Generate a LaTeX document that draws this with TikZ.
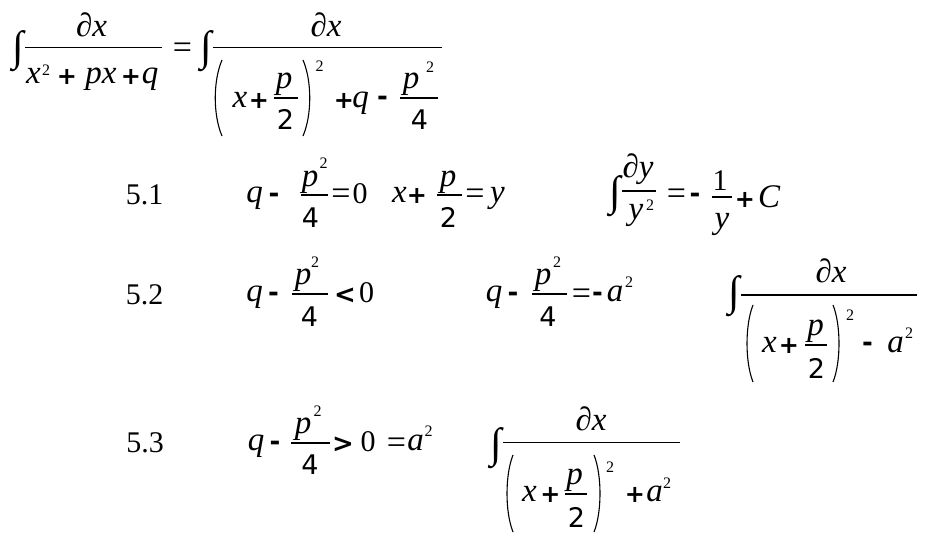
\documentclass[tikz,border=0pt]{standalone}
\usepackage{fontspec}
\setmainfont{Liberation Serif}
\newfontfamily\sansdj{DejaVu Sans}
\begin{document}
\begin{tikzpicture}[x=1pt,y=-1pt,
  every node/.style={inner sep=0pt,outer sep=0pt},
  v/.style={anchor=base,font=\fontsize{33}{38}\selectfont\itshape},
  rm/.style={anchor=base,font=\fontsize{30}{36}\selectfont},
  sup/.style={anchor=base,font=\fontsize{16}{18}\selectfont},
  dg/.style={anchor=base,font=\fontsize{27}{30}\sansdj},
  op/.style={anchor=center,font=\fontsize{24}{26}\sansdj\bfseries},
  mn/.style={anchor=center,font=\fontsize{26}{30}\sansdj\bfseries},
  eqs/.style={anchor=center,font=\fontsize{34}{36}\selectfont},
  intg/.style={anchor=center,font=\fontsize{42}{44}\selectfont},
  fbar/.style={line width=1.4pt},
  par/.style={line width=1.1pt}]
\useasboundingbox (0,0) rectangle (925,541);
\fill[white] (0,0) rectangle (925,541);
% ---------------- top formula
\node[intg] (int1) at (18.5,51) {∫};
\node[v] (dx1) at (91.5,36) {∂x};
\coordinate (b1l) at (25,47.7); \coordinate (b1r) at (162,47.7);
\draw[fbar] (b1l) -- (b1r);
\node[v] (d1x) at (33.5,83) {x};
\node[sup] (d1s) at (46,75) {2};
\node[op] (d1pa) at (67,77) {+};
\node[v] (d1px) at (101,83) {px};
\node[op] (d1pb) at (131,77) {+};
\node[v] (d1q) at (150,83) {q};
\node[eqs] (eq1) at (182.5,51) {=};
\node[intg] (int2) at (206,51) {∫};
\node[v] (dx2) at (326,36) {∂x};
\coordinate (b2l) at (213,47.7); \coordinate (b2r) at (442,47.7);
\draw[fbar] (b2l) -- (b2r);
\draw[par] (222,60) .. controls (213,81) and (213,115) .. (222,136);
\node[v] (ix1) at (240,107) {x};
\node[op] (ipa) at (259,101) {+};
\node[v] (ipn) at (284,88) {p};
\coordinate (ib1l) at (274,98); \coordinate (ib1r) at (298,98);
\draw[fbar] (ib1l) -- (ib1r);
\node[dg] (i2) at (285.5,129) {2};
\draw[par] (303,60) .. controls (312,81) and (312,115) .. (303,136);
\node[sup] (is1) at (319.5,71) {2};
\node[op] (ipb) at (344,101) {+};
\node[v] (iq) at (360.5,107) {q};
\node[mn] (im) at (382.5,101) {-};
\node[v] (ipn2) at (411,88) {p};
\node[sup] (is2) at (430,72) {2};
\coordinate (ib2l) at (400,98); \coordinate (ib2r) at (438,98);
\draw[fbar] (ib2l) -- (ib2r);
\node[dg] (i4) at (419.5,129) {4};
% ---------------- row 5.1
\node[rm] (lab1) at (144.5,204) {5.1};
\node[v] (aq) at (254.5,202) {q};
\node[mn] (am) at (274,198) {-};
\node[v] (ap) at (310,186) {p};
\node[sup] (as) at (323.5,168) {2};
\coordinate (abl) at (301,195); \coordinate (abr) at (328,195);
\draw[fbar] (abl) -- (abr);
\node[dg] (a4) at (310.5,227) {4};
\node[eqs] (aeq) at (341,197) {=};
\node[rm] (a0) at (360,203) {0};
\node[v] (ax) at (399.5,202) {x};
\node[op] (apl) at (417,196) {+};
\node[v] (ap2) at (448,186) {p};
\coordinate (ab2l) at (437,195); \coordinate (ab2r) at (462,195);
\draw[fbar] (ab2l) -- (ab2r);
\node[dg] (a2) at (448.5,227) {2};
\node[eqs] (aeq2) at (475,197) {=};
\node[v] (ay) at (497.5,202) {y};
\node[intg] (aint) at (615,196) {∫};
\node[v] (ady) at (638,177) {∂y};
\coordinate (ab3l) at (622,191); \coordinate (ab3r) at (656,191);
\draw[fbar] (ab3l) -- (ab3r);
\node[v] (ay2) at (636,219) {y};
\node[sup] (ays) at (650,210) {2};
\node[eqs] (aeq3) at (676.5,197) {=};
\node[mn] (am2) at (695,198) {-};
\node[rm] (a1) at (720,190) {1};
\coordinate (ab4l) at (712,197); \coordinate (ab4r) at (732,197);
\draw[fbar] (ab4l) -- (ab4r);
\node[v] (ay3) at (722,228) {y};
\node[op] (apl2) at (745,200) {+};
\node[v] (aC) at (769,207) {C};
% ---------------- row 5.2
\node[rm] (lab2) at (144.5,304) {5.2};
\node[v] (bq) at (254.5,301) {q};
\node[mn] (bm) at (273.5,297) {-};
\node[v] (bp) at (303,284) {p};
\node[sup] (bs) at (315,267) {2};
\coordinate (bbl) at (292,294); \coordinate (bbr) at (328,294);
\draw[fbar] (bbl) -- (bbr);
\node[dg] (b4) at (309.5,326) {4};
\node[mn] (blt) at (345,296) {<};
\node[rm] (b0) at (366.5,302) {0};
\node[v] (bq2) at (494,301) {q};
\node[mn] (bm2) at (513,297) {-};
\node[v] (bp2) at (543,284) {p};
\node[sup] (bs2) at (557,267) {2};
\coordinate (bb2l) at (532,294); \coordinate (bb2r) at (567,294);
\draw[fbar] (bb2l) -- (bb2r);
\node[dg] (b42) at (548,326) {4};
\node[eqs] (beq) at (581.5,296.5) {=};
\node[mn] (bm3) at (597.5,297) {-};
\node[v] (ba) at (615,301) {a};
\node[sup] (bas) at (629,287) {2};
\node[intg] (bint) at (734.5,296) {∫};
\node[v] (bdx) at (831,282) {∂x};
\coordinate (bb3l) at (741,295); \coordinate (bb3r) at (917,295);
\draw[fbar] (bb3l) -- (bb3r);
\draw[par] (753,305) .. controls (745,325) and (745,362) .. (753,382);
\node[v] (bx) at (769.5,352) {x};
\node[op] (bpl) at (789,346) {+};
\node[v] (bp3) at (815.5,335) {p};
\coordinate (bb4l) at (805,345); \coordinate (bb4r) at (827,345);
\draw[fbar] (bb4l) -- (bb4r);
\node[dg] (b2) at (816.5,378) {2};
\draw[par] (833,305) .. controls (841,325) and (841,362) .. (833,382);
\node[sup] (bs3) at (850,320) {2};
\node[mn] (bm4) at (867.5,347) {-};
\node[v] (ba2) at (895.5,352) {a};
\node[sup] (bas2) at (909,338) {2};
% ---------------- row 5.3
\node[rm] (lab3) at (145,452) {5.3};
\node[v] (cq) at (256,450) {q};
\node[mn] (cm) at (275,446) {-};
\node[v] (cp) at (303,433) {p};
\node[sup] (cs) at (317.5,416) {2};
\coordinate (cbl) at (291,443); \coordinate (cbr) at (330,443);
\draw[fbar] (cbl) -- (cbr);
\node[dg] (c4) at (310,474) {4};
\node[mn] (cgt) at (343,445) {>};
\node[rm] (c0) at (368,451) {0};
\node[eqs] (ceq) at (396.5,445.5) {=};
\node[v] (ca) at (415.5,450) {a};
\node[sup] (cas) at (428.5,436) {2};
\node[intg] (cint) at (496.5,448.5) {∫};
\node[v] (cdx) at (591,430) {∂x};
\coordinate (cb2l) at (503,442.7); \coordinate (cb2r) at (680,442.7);
\draw[fbar] (cb2l) -- (cb2r);
\draw[par] (513,455) .. controls (505,475) and (505,512) .. (513,532);
\node[v] (cx) at (529.5,501) {x};
\node[op] (cpl) at (550.5,495) {+};
\node[v] (cp2) at (574.5,484) {p};
\coordinate (cb3l) at (565,494); \coordinate (cb3r) at (587,494);
\draw[fbar] (cb3l) -- (cb3r);
\node[dg] (c2) at (576.5,527) {2};
\draw[par] (594,455) .. controls (602,475) and (602,512) .. (594,532);
\node[sup] (cs2) at (610,472) {2};
\node[op] (cpl2) at (635,495) {+};
\node[v] (ca2) at (654.5,501) {a};
\node[sup] (cas2) at (667,488) {2};
\end{tikzpicture}
\end{document}
